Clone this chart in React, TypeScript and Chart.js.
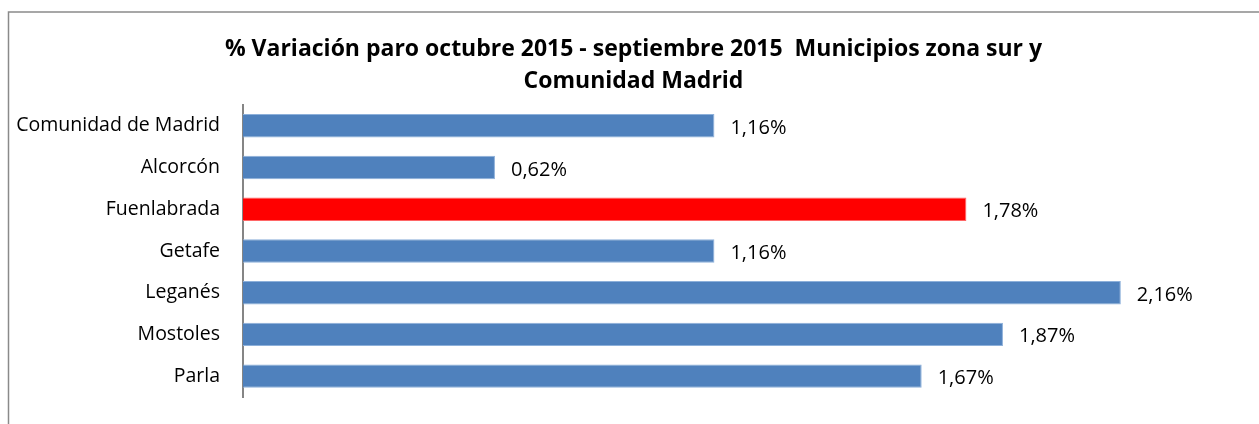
import React, { useEffect, useRef } from "react";
import { Chart, registerables } from "chart.js";

Chart.register(...registerables);

const titleLines = [
  "% Variación paro octubre 2015 - septiembre 2015  Municipios zona sur y",
  "Comunidad Madrid",
];
const categories = [
  "Comunidad de Madrid",
  "Alcorcón",
  "Fuenlabrada",
  "Getafe",
  "Leganés",
  "Mostoles",
  "Parla",
];
const values = [1.16, 0.62, 1.78, 1.16, 2.16, 1.87, 1.67];
const barColors = ["#4F81BD", "#4F81BD", "#FF0000", "#4F81BD", "#4F81BD", "#4F81BD", "#4F81BD"];
const barEdgeColors = ["#8DB0DA", "#8DB0DA", "#FF6666", "#8DB0DA", "#8DB0DA", "#8DB0DA", "#8DB0DA"];

const FONT = "'Open Sans', sans-serif";

const fmt = (v: number) => v.toFixed(2).replace(".", ",") + "%";

const framePlugin = {
  id: "frame",
  beforeDraw(chart: any) {
    const ctx = chart.ctx;
    ctx.save();
    ctx.strokeStyle = "#8a8a8a";
    ctx.lineWidth = 1.5;
    ctx.beginPath();
    ctx.moveTo(8.5, chart.height + 2);
    ctx.lineTo(8.5, 12);
    ctx.lineTo(chart.width + 2, 12);
    ctx.stroke();
    ctx.restore();
  },
};

const labelPlugin = {
  id: "valueLabels",
  afterDatasetsDraw(chart: any) {
    const ctx = chart.ctx;
    const meta = chart.getDatasetMeta(0);
    ctx.save();
    ctx.font = `20px ${FONT}`;
    ctx.fillStyle = "#000";
    ctx.textAlign = "left";
    ctx.textBaseline = "alphabetic";
    meta.data.forEach((bar: any, i: number) => {
      ctx.fillText(fmt(values[i]), bar.x + 16, bar.y + 8);
    });
    ctx.restore();
  },
};

export default function App() {
  const ref = useRef<HTMLCanvasElement | null>(null);
  useEffect(() => {
    if (!ref.current) return;
    const chart = new Chart(ref.current, {
      type: "bar",
      data: {
        labels: categories,
        datasets: [
          {
            data: values,
            backgroundColor: barColors,
            borderColor: barEdgeColors,
            borderWidth: 1,
            categoryPercentage: 1,
            barPercentage: 0.56,
          },
        ],
      },
      options: {
        indexAxis: "y",
        animation: false,
        responsive: false,
        maintainAspectRatio: false,
        layout: { padding: { left: 8, right: 0, top: 23, bottom: 27 } },
        plugins: {
          legend: { display: false },
          tooltip: { enabled: false },
          title: {
            display: true,
            text: titleLines,
            color: "#000",
            font: { family: FONT, size: 23, weight: "bold", lineHeight: 1.39 },
            padding: { top: 10, bottom: 8 },
          },
        },
        scales: {
          x: {
            min: 0,
            max: 2.5,
            display: false,
            grid: { display: false },
          },
          y: {
            grid: { display: false },
            border: { display: true, color: "#858585", width: 2 },
            ticks: {
              color: "#000",
              font: { family: FONT, size: 19.5 },
              padding: 15,
            },
            afterFit(scale: any) {
              scale.width = 235;
              scale.paddingTop = 0;
              scale.paddingBottom = 0;
            },
          },
        },
      },
      plugins: [framePlugin, labelPlugin],
    });
    return () => chart.destroy();
  }, []);
  return (
    <div style={{ position: "fixed", left: 0, top: 0, width: 1259, height: 424, background: "#fff" }}>
      <canvas ref={ref} width={1259} height={424} style={{ display: "block" }} />
    </div>
  );
}
